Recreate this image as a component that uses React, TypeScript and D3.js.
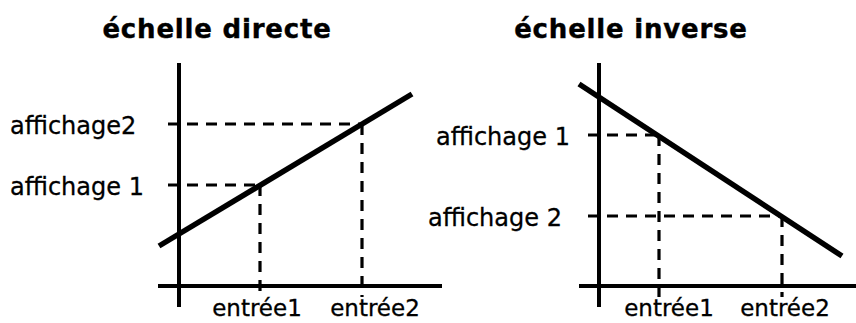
import React from "react";
import * as d3 from "d3";

const titles = ["échelle directe", "échelle inverse"];
const entryLabels = ["entrée1", "entrée2"];
const displayLabelsDirect = ["affichage 1", "affichage2"];
const displayLabelsInverse = ["affichage 1", "affichage 2"];

// abstract units (input on x, displayed value on y)
const entryDirect = [8.1, 18.3];
const displayDirect = [10.1, 16.2];
const lineDirectX = [-2.0, 23.3];
const lineDirectY = [4.0, 19.2];

const entryInverse = [6.0, 18.3];
const displayInverse = [15.1, 7.0];
const lineInverseX = [-2.0, 24.3];
const lineInverseY = [20.2, 3.0];

const W = 856;
const H = 323;
const FONT = "'DejaVu Sans', Verdana, sans-serif";

type PanelProps = {
  title: string;
  titleX: number;
  originX: number;
  axisXStart: number;
  axisXEnd: number;
  entries: number[];
  displays: number[];
  displayLabels: string[];
  displayLabelX: number[];
  entryDx: number[];
  lineX: number[];
  lineY: number[];
};

function Panel(p: PanelProps) {
  const x = d3.scaleLinear().domain([0, 10]).range([p.originX, p.originX + 100]);
  const y = d3.scaleLinear().domain([0, 10]).range([286, 186]);
  const line = d3
    .line<number>()
    .x((_, i) => x(p.lineX[i]))
    .y((d) => y(d));
  const dash = "11,8";
  return (
    <g>
      <text
        x={p.titleX}
        y={38}
        textAnchor="middle"
        fontFamily={FONT}
        fontWeight="bold"
        fontSize={26}
        letterSpacing={0.8}
        stroke="#000"
        strokeWidth={0.4}
        fill="#000"
      >
        {p.title}
      </text>
      {/* axes */}
      <line x1={x(0)} x2={x(0)} y1={y(22.3)} y2={y(-2.1)} stroke="#000" strokeWidth={4} />
      <line x1={p.axisXStart} x2={p.axisXEnd} y1={y(0)} y2={y(0)} stroke="#000" strokeWidth={4} />
      {/* guides */}
      {p.entries.map((e, i) => (
        <g key={i}>
          <line
            x1={x(-1.1)}
            x2={x(e)}
            y1={y(p.displays[i])}
            y2={y(p.displays[i])}
            stroke="#000"
            strokeWidth={3.2}
            strokeDasharray={dash}
          />
          <line
            x1={x(e)}
            x2={x(e)}
            y1={y(p.displays[i])}
            y2={y(-1.1)}
            stroke="#000"
            strokeWidth={3.2}
            strokeDasharray={dash}
          />
          <text
            x={x(e) + p.entryDx[i]}
            y={316}
            textAnchor="middle"
            fontFamily={FONT}
            fontSize={23}
            stroke="#000"
            strokeWidth={0.3}
            fill="#000"
          >
            {entryLabels[i]}
          </text>
          <text
            x={p.displayLabelX[i]}
            y={y(p.displays[i]) + 9.5}
            textAnchor="start"
            fontFamily={FONT}
            fontSize={24}
            stroke="#000"
            strokeWidth={0.3}
            fill="#000"
          >
            {p.displayLabels[i]}
          </text>
        </g>
      ))}
      <path d={line(p.lineY) || ""} fill="none" stroke="#000" strokeWidth={5.5} />
    </g>
  );
}

export default function App() {
  return (
    <svg
      width={W}
      height={H}
      viewBox={`0 0 ${W} ${H}`}
      style={{ position: "absolute", left: 0, top: 0, background: "#fff" }}
    >
      <rect width={W} height={H} fill="#fff" />
      <Panel
        title={titles[0]}
        titleX={217}
        originX={179}
        axisXStart={158}
        axisXEnd={442}
        entries={entryDirect}
        displays={displayDirect}
        displayLabels={displayLabelsDirect}
        displayLabelX={[10, 10]}
        entryDx={[-3, 13]}
        lineX={lineDirectX}
        lineY={lineDirectY}
      />
      <Panel
        title={titles[1]}
        titleX={631}
        originX={599}
        axisXStart={579}
        axisXEnd={856}
        entries={entryInverse}
        displays={displayInverse}
        displayLabels={displayLabelsInverse}
        displayLabelX={[436, 428]}
        entryDx={[10, 3]}
        lineX={lineInverseX}
        lineY={lineInverseY}
      />
    </svg>
  );
}
